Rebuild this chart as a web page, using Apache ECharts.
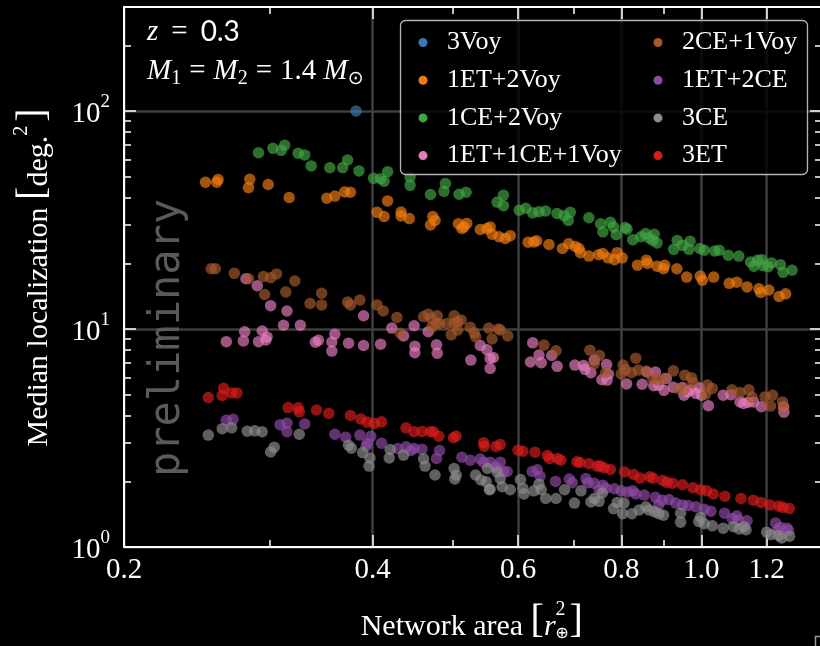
<!DOCTYPE html>
<html>
<head>
<meta charset="utf-8">
<script src="https://cdn.jsdelivr.net/npm/echarts@6/dist/echarts.min.js"></script>
<style>
html,body{margin:0;padding:0;background:#000;}
#chart{width:820px;height:646px;}
</style>
</head>
<body>
<div id="chart"></div>
<script>
// ---------------- data (x: network area [r_earth^2], y: median localization [deg^2]) ----------------
const seriesNames = ['3Voy','1ET+2Voy','1CE+2Voy','1ET+1CE+1Voy','2CE+1Voy','1ET+2CE','3CE','3ET'];
const seriesColors = ['#3a78b0','#f07c12','#42a542','#e47cbc','#a4582c','#8e4aa4','#8c8c8c','#d81c1c'];

const voy3 = [[0.382,100]];

const et1voy2 = [[0.251,47.1],[0.259,47.1],[0.260,48.5],[0.284,48.6],[0.283,44.5],[0.299,46.0],[0.317,40.1],[0.352,39.8],[0.360,40.7],[0.370,42.5],[0.376,42.4],[0.405,34.3],[0.413,32.8],[0.417,38.7],[0.433,34.4],[0.433,33.0],[0.443,32.1],[0.470,30.0],[0.476,31.5],[0.473,32.8],[0.508,30.4],[0.513,28.9],[0.520,30.5],[0.516,29.4],[0.540,28.6],[0.550,28.9],[0.555,29.4],[0.558,27.2],[0.569,26.5],[0.579,26.0],[0.587,26.8],[0.617,25.0],[0.627,25.1],[0.632,25.4],[0.654,24.4],[0.679,23.4],[0.691,24.6],[0.704,23.9],[0.711,23.4],[0.714,22.4],[0.731,21.6],[0.751,21.9],[0.760,22.2],[0.771,21.2],[0.785,20.8],[0.791,22.4],[0.802,21.2],[0.837,19.6],[0.858,20.7],[0.861,20.0],[0.884,19.4],[0.900,18.9],[0.903,19.6],[0.934,18.9],[0.960,17.3],[0.997,17.5],[1.003,16.75],[1.035,17.3],[1.081,16.2],[1.104,16.4],[1.136,15.6],[1.174,15.3],[1.180,14.7],[1.207,15.1],[1.242,14.1],[1.265,14.5]];

const ce1voy2 = [[0.291,64.4],[0.303,67.4],[0.310,66.0],[0.313,69.6],[0.325,64.0],[0.331,62.9],[0.337,56.0],[0.355,54.9],[0.368,55.0],[0.373,59.6],[0.385,53.1],[0.401,49.1],[0.409,48.9],[0.413,47.6],[0.417,52.7],[0.444,49.9],[0.444,45.6],[0.470,41.4],[0.488,42.8],[0.490,46.5],[0.509,41.5],[0.519,42.4],[0.566,38.2],[0.576,41.1],[0.576,36.8],[0.602,35.1],[0.613,35.8],[0.625,34.1],[0.636,34.5],[0.648,34.8],[0.669,33.9],[0.682,33.1],[0.690,31.5],[0.694,34.3],[0.731,32.4],[0.755,30.4],[0.760,27.9],[0.776,30.9],[0.783,29.4],[0.789,27.1],[0.809,29.2],[0.813,28.7],[0.826,25.7],[0.845,26.5],[0.856,27.4],[0.864,26.2],[0.873,25.5],[0.884,24.8],[0.877,27.2],[0.926,23.2],[0.935,25.5],[0.949,24.2],[0.969,25.3],[0.966,23.2],[0.996,23.4],[1.008,23.0],[1.038,22.8],[1.051,23.0],[1.078,21.8],[1.110,21.6],[1.147,20.3],[1.158,19.4],[1.170,20.7],[1.183,20.8],[1.188,19.5],[1.205,19.3],[1.216,20.1],[1.247,19.7],[1.256,18.2],[1.288,18.6]];

const et1ce1voy1 = [[0.281,17.0],[0.290,15.8],[0.301,12.8],[0.315,12.1],[0.312,10.4],[0.327,10.4],[0.390,11.5],[0.422,10.1],[0.266,8.75],[0.279,8.82],[0.280,9.72],[0.291,8.75],[0.294,9.79],[0.297,8.90],[0.298,9.20],[0.341,8.70],[0.344,8.89],[0.357,8.72],[0.360,9.47],[0.357,7.92],[0.374,8.61],[0.390,8.40],[0.409,8.52],[0.436,9.30],[0.449,10.35],[0.467,9.72],[0.450,8.33],[0.450,7.79],[0.478,8.46],[0.479,7.74],[0.526,7.20],[0.540,8.40],[0.550,8.04],[0.555,7.33],[0.555,6.59],[0.560,7.40],[0.625,8.64],[0.621,7.06],[0.636,7.60],[0.640,7.00],[0.659,7.56],[0.669,6.74],[0.703,6.83],[0.720,6.81],[0.723,6.53],[0.735,6.30],[0.742,7.20],[0.758,5.85],[0.768,6.87],[0.772,6.20],[0.769,5.83],[0.812,5.60],[0.848,5.58],[0.859,6.35],[0.880,6.35],[0.876,5.49],[0.888,5.52],[0.901,5.23],[0.907,5.93],[0.925,5.40],[0.949,5.39],[0.953,4.97],[0.962,5.14],[0.972,5.25],[0.985,5.07],[0.994,5.38],[1.000,4.97],[1.020,4.45],[1.063,4.97],[1.086,5.00],[1.114,4.63],[1.125,4.55],[1.139,4.61],[1.157,4.63],[1.182,4.40],[1.258,4.40],[1.259,4.15]];

const ce2voy1 = [[0.255,18.9],[0.258,18.9],[0.272,18.0],[0.283,17.0],[0.295,17.4],[0.301,17.2],[0.306,17.9],[0.322,16.6],[0.296,14.4],[0.314,14.8],[0.336,13.1],[0.347,14.6],[0.347,12.9],[0.373,13.3],[0.376,12.9],[0.386,13.6],[0.405,12.9],[0.412,12.1],[0.428,11.3],[0.432,9.56],[0.461,11.4],[0.467,11.7],[0.471,11.2],[0.479,11.5],[0.472,10.2],[0.478,10.6],[0.482,10.6],[0.492,10.6],[0.502,11.5],[0.502,10.6],[0.507,10.8],[0.512,11.0],[0.507,9.9],[0.498,9.4],[0.525,10.2],[0.531,9.6],[0.533,9.2],[0.553,10.1],[0.558,9.0],[0.568,10.0],[0.571,9.9],[0.583,9.3],[0.645,8.44],[0.667,7.95],[0.733,8.0],[0.753,7.55],[0.766,6.30],[0.742,6.92],[0.804,6.83],[0.809,6.51],[0.833,7.35],[0.823,6.30],[0.839,6.48],[0.800,6.22],[0.858,6.42],[0.873,5.93],[0.925,6.43],[0.902,5.93],[0.884,5.85],[0.955,6.14],[0.973,5.98],[0.977,5.68],[0.938,5.34],[0.952,5.25],[1.017,5.53],[1.031,5.34],[1.012,5.03],[1.089,5.26],[1.114,5.12],[1.142,5.26],[1.152,4.86],[1.194,4.88],[1.220,4.97],[1.213,4.43],[1.254,4.63],[1.257,4.36]];

const et1ce2 = [[0.266,3.81],[0.271,3.85],[0.309,3.64],[0.315,3.70],[0.315,3.38],[0.331,3.67],[0.360,3.29],[0.371,3.19],[0.386,3.26],[0.394,2.99],[0.398,3.22],[0.393,2.90],[0.410,2.99],[0.429,2.83],[0.439,2.88],[0.445,2.77],[0.449,2.83],[0.459,2.81],[0.478,2.55],[0.482,2.77],[0.513,2.58],[0.525,2.50],[0.540,2.53],[0.545,2.44],[0.555,2.45],[0.563,2.33],[0.571,2.45],[0.566,2.30],[0.576,2.22],[0.582,2.22],[0.624,2.22],[0.633,2.26],[0.638,2.11],[0.666,2.00],[0.692,2.05],[0.698,1.97],[0.725,2.06],[0.729,1.97],[0.742,1.96],[0.760,1.92],[0.767,1.86],[0.752,1.83],[0.785,1.85],[0.800,1.81],[0.814,1.79],[0.826,1.81],[0.833,1.75],[0.853,1.73],[0.880,1.69],[0.897,1.64],[0.914,1.65],[0.888,1.56],[0.931,1.59],[0.949,1.56],[0.964,1.55],[0.985,1.53],[1.008,1.49],[1.027,1.46],[1.067,1.43],[1.104,1.39],[1.090,1.35],[1.136,1.32],[1.109,1.33],[1.230,1.29],[1.247,1.23],[1.270,1.22],[1.237,1.20],[1.275,1.19]];

const ce3 = [[0.253,3.26],[0.263,3.49],[0.270,3.52],[0.282,3.40],[0.288,3.41],[0.294,3.38],[0.301,2.73],[0.304,2.87],[0.326,3.29],[0.374,2.93],[0.377,2.84],[0.389,2.71],[0.397,2.56],[0.396,2.35],[0.419,2.56],[0.420,2.80],[0.436,2.64],[0.461,2.54],[0.463,2.35],[0.476,2.14],[0.502,2.29],[0.505,2.14],[0.503,2.05],[0.533,2.14],[0.541,2.03],[0.549,1.99],[0.551,2.29],[0.554,1.83],[0.566,2.21],[0.574,1.89],[0.555,1.84],[0.571,2.06],[0.587,1.83],[0.604,2.04],[0.608,1.86],[0.610,1.75],[0.627,1.81],[0.636,1.94],[0.640,1.83],[0.648,1.67],[0.667,1.67],[0.683,1.83],[0.702,1.59],[0.715,1.81],[0.735,1.61],[0.742,1.67],[0.752,1.62],[0.759,1.77],[0.783,1.50],[0.791,1.60],[0.803,1.42],[0.806,1.59],[0.824,1.42],[0.841,1.48],[0.857,1.53],[0.864,1.48],[0.878,1.45],[0.888,1.42],[0.900,1.40],[0.944,1.43],[0.944,1.30],[0.993,1.31],[0.998,1.37],[1.008,1.28],[1.031,1.25],[1.063,1.22],[1.094,1.24],[1.111,1.21],[1.127,1.24],[1.133,1.20],[1.200,1.17],[1.213,1.14],[1.240,1.13],[1.251,1.10],[1.279,1.12]];

const et3 = [[0.253,4.85],[0.264,5.35],[0.263,4.96],[0.270,5.09],[0.274,5.09],[0.316,4.36],[0.325,4.35],[0.326,4.17],[0.342,4.25],[0.354,4.10],[0.376,4.01],[0.387,3.87],[0.394,3.74],[0.402,3.69],[0.410,3.75],[0.439,3.52],[0.449,3.38],[0.459,3.39],[0.470,3.38],[0.474,3.38],[0.481,3.22],[0.501,3.17],[0.505,3.23],[0.545,3.01],[0.546,2.90],[0.564,2.89],[0.571,2.95],[0.600,2.78],[0.608,2.75],[0.629,2.72],[0.651,2.63],[0.655,2.55],[0.670,2.55],[0.676,2.50],[0.707,2.46],[0.713,2.44],[0.731,2.41],[0.748,2.35],[0.755,2.35],[0.762,2.31],[0.776,2.27],[0.807,2.21],[0.828,2.15],[0.843,2.07],[0.866,2.10],[0.874,2.07],[0.898,2.02],[0.909,1.98],[0.923,1.96],[0.949,1.93],[0.977,1.87],[0.998,1.83],[1.015,1.81],[1.034,1.75],[1.068,1.71],[1.117,1.67],[1.156,1.64],[1.181,1.60],[1.211,1.56],[1.241,1.54],[1.256,1.52],[1.278,1.50]];

const seriesData = [voy3, et1voy2, ce1voy2, et1ce1voy1, ce2voy1, et1ce2, ce3, et3];

// axis ranges and ticks
const xMin = 0.2, xMax = 1.4;
const yMin = 1, yMax = 300;
const xMajorTicks = [0.2, 0.4, 0.6, 0.8, 1.0, 1.2];
const xMinorTicks = [0.3, 0.5, 0.7, 0.9];
const yMajorTicks = [1, 10, 100];
const yMinorTicks = [2,3,4,5,6,7,8,9,20,30,40,50,60,70,80,90,200];

// ---------------- chart ----------------
const SERIF = '"Liberation Serif","DejaVu Serif",serif';
const L = Math.log10;
const lx0 = L(xMin), lx1 = L(xMax), ly0 = L(yMin), ly1 = L(yMax);
const white = '#ffffff';
const gridColor = '#3e3e3e';

function overlayX(pos, ticks, len, opts) {
  return Object.assign({
    type: 'value', position: pos, min: lx0, max: lx1, gridIndex: 0,
    axisLine: {show: false, onZero: false},
    axisTick: {show: true, inside: true, length: len, customValues: ticks.map(L), lineStyle: {color: white, width: 1.5}},
    axisLabel: {show: false},
    splitLine: {show: false}
  }, opts || {});
}
function overlayY(pos, ticks, len, opts) {
  return Object.assign({
    type: 'value', position: pos, min: ly0, max: ly1, gridIndex: 0,
    axisLine: {show: false, onZero: false},
    axisTick: {show: true, inside: true, length: len, customValues: ticks.map(L), lineStyle: {color: white, width: 1.5}},
    axisLabel: {show: false},
    splitLine: {show: false}
  }, opts || {});
}

const spine = {show: true, onZero: false, lineStyle: {color: white, width: 2}};

const xAxes = [
  {type: 'log', logBase: 10, min: xMin, max: xMax, show: false, axisLine: {onZero: false}},
  overlayX('bottom', xMajorTicks, 12, {
    axisLine: spine,
    axisLabel: {
      show: true, customValues: xMajorTicks.map(L), margin: 9,
      color: white, fontFamily: SERIF, fontSize: 29,
      formatter: v => Math.pow(10, v).toFixed(1)
    },
    splitLine: {show: true, lineStyle: {color: gridColor, width: 2.5}}
  }),
  overlayX('bottom', xMinorTicks, 7),
  overlayX('top', xMajorTicks, 12, {axisLine: spine}),
  overlayX('top', xMinorTicks, 7)
];

const yAxes = [
  {type: 'log', logBase: 10, min: yMin, max: yMax, show: false, axisLine: {onZero: false}},
  overlayY('left', yMajorTicks, 12, {
    axisLine: spine,
    axisLabel: {
      show: true, customValues: yMajorTicks.map(L), margin: 14,
      color: white, fontFamily: SERIF,
      formatter: v => '{b|10}{s|' + Math.round(v) + '}',
      rich: {
        b: {fontFamily: SERIF, fontSize: 29, lineHeight: 36, verticalAlign: 'bottom', color: white},
        s: {fontFamily: SERIF, fontSize: 19, lineHeight: 19, verticalAlign: 'top', color: white}
      }
    },
    splitLine: {show: true, lineStyle: {color: gridColor, width: 2.5}}
  }),
  overlayY('left', yMinorTicks, 7),
  overlayY('right', yMajorTicks, 12, {axisLine: spine}),
  overlayY('right', yMinorTicks, 7)
];

const series = seriesNames.map((name, i) => ({
  name: name,
  type: 'scatter',
  xAxisIndex: 0, yAxisIndex: 0,
  data: seriesData[i],
  symbol: 'circle',
  symbolSize: 11.5,
  itemStyle: {color: seriesColors[i], opacity: 0.68},
  emphasis: {disabled: true},
  z: 2 + i * 0.01
}));

function legendBlock(names, left) {
  return {
    data: names, orient: 'vertical', left: left, top: 29.5, padding: 0,
    itemWidth: 38, itemHeight: 9, itemGap: 11.7, icon: 'circle',
    itemStyle: {opacity: 1},
    textStyle: {color: white, fontFamily: SERIF, fontSize: 26, lineHeight: 25},
    selectedMode: false, z: 6
  };
}

const rich = {
  n: {fontFamily: SERIF, fontSize: 30, lineHeight: 42, verticalAlign: 'bottom', fill: white, color: white},
  i: {fontFamily: SERIF, fontStyle: 'italic', fontSize: 30, lineHeight: 42, verticalAlign: 'bottom', fill: white, color: white},
  b: {fontFamily: SERIF, fontSize: 40, lineHeight: 42, fill: white, color: white},
  s: {fontFamily: SERIF, fontSize: 20, lineHeight: 20, verticalAlign: 'top', fill: white, color: white, padding: [0, 4, 0, 0]}
};

const mRich = {
  m: {fontFamily: SERIF, fontStyle: 'italic', fontSize: 29, lineHeight: 32, verticalAlign: 'top', fill: white},
  t: {fontFamily: SERIF, fontSize: 29, lineHeight: 32, verticalAlign: 'top', fill: white},
  z: {fontFamily: SERIF, fontStyle: 'italic', fontSize: 29, lineHeight: 32, fill: white},
  w: {fontFamily: '"Lato","Open Sans",sans-serif', fontSize: 28, lineHeight: 32, fill: white},
  g: {fontFamily: SERIF, fontSize: 29, lineHeight: 32, fill: white},
  e: {fontFamily: SERIF, fontSize: 29, lineHeight: 32, verticalAlign: 'top', fill: white, padding: [0, 8, 0, 8]},
  u: {fontFamily: SERIF, fontSize: 20, lineHeight: 17, verticalAlign: 'bottom', fill: white},
  o: {fontFamily: '"DejaVu Sans",sans-serif', fontSize: 19, lineHeight: 17, verticalAlign: 'bottom', fill: white}
};

const option = {
  backgroundColor: '#000000',
  animation: false,
  grid: {left: 124, top: 7, width: 698, height: 540, outerBoundsMode: 'none', containLabel: false},
  xAxis: xAxes,
  yAxis: yAxes,
  legend: [legendBlock(seriesNames.slice(0, 4), 418.5), legendBlock(seriesNames.slice(4), 653.5)],
  series: series,
  graphic: [
    {type: 'rect', z: 5, silent: true,
     shape: {x: 400.5, y: 20.5, width: 407, height: 154, r: 5},
     style: {fill: 'rgba(0,0,0,0.8)', stroke: 'rgba(210,210,210,0.85)', lineWidth: 1.3}},
    {type: 'text', z: 1, silent: true, x: 168.5, y: 338, rotation: Math.PI / 2,
     style: {text: 'preliminary', fill: '#5a5a5a', font: '42px "DejaVu Sans Mono", monospace',
             align: 'center', verticalAlign: 'middle', textAlign: 'center', textVerticalAlign: 'middle'}},
    {type: 'text', z: 7, silent: true, x: 147, y: 32,
     style: {text: '{z|z}{g| \u2009=\u2009 }{w|0.3}', rich: mRich, fill: white,
             align: 'left', verticalAlign: 'middle', textAlign: 'left', textVerticalAlign: 'middle'}},
    {type: 'text', z: 7, silent: true, x: 147, y: 57,
     style: {text: '{m|M}{u|1}{e|=}{m|M}{u|2}{e|=}{t|1.4 }{m|M}{o|⊙}', rich: mRich, fill: white,
             align: 'left', verticalAlign: 'top', textAlign: 'left', textVerticalAlign: 'top'}},
    {type: 'text', z: 7, silent: true, x: 360.7, y: 621,
     style: {text: '{n|Network area }{b|[}{i|r}{s|2}{b|]}', rich: rich, fill: white,
             align: 'left', verticalAlign: 'middle', textAlign: 'left', textVerticalAlign: 'middle'}},
    {type: 'text', z: 7, silent: true, x: 562, y: 633.5,
     style: {text: '⊕', fill: white, font: '16px "DejaVu Sans", sans-serif',
             align: 'center', verticalAlign: 'middle', textAlign: 'center', textVerticalAlign: 'middle'}},
    {type: 'text', z: 7, silent: true, x: 33, y: 277.5, rotation: Math.PI / 2,
     style: {text: '{n|Median localization }{b|[}{n|deg.}{s|2}{b|]}', rich: rich, fill: white,
             align: 'center', verticalAlign: 'middle', textAlign: 'center', textVerticalAlign: 'middle'}},
    {type: 'polyline', z: 7, silent: true,
     shape: {points: [[815.5, 646], [815.5, 636.5], [820, 636.5]]},
     style: {stroke: '#9a9a9a', lineWidth: 1.5, fill: null}}
  ]
};

const chart = echarts.init(document.getElementById('chart'), null, {renderer: 'canvas'});
chart.setOption(option);
</script>
</body>
</html>
